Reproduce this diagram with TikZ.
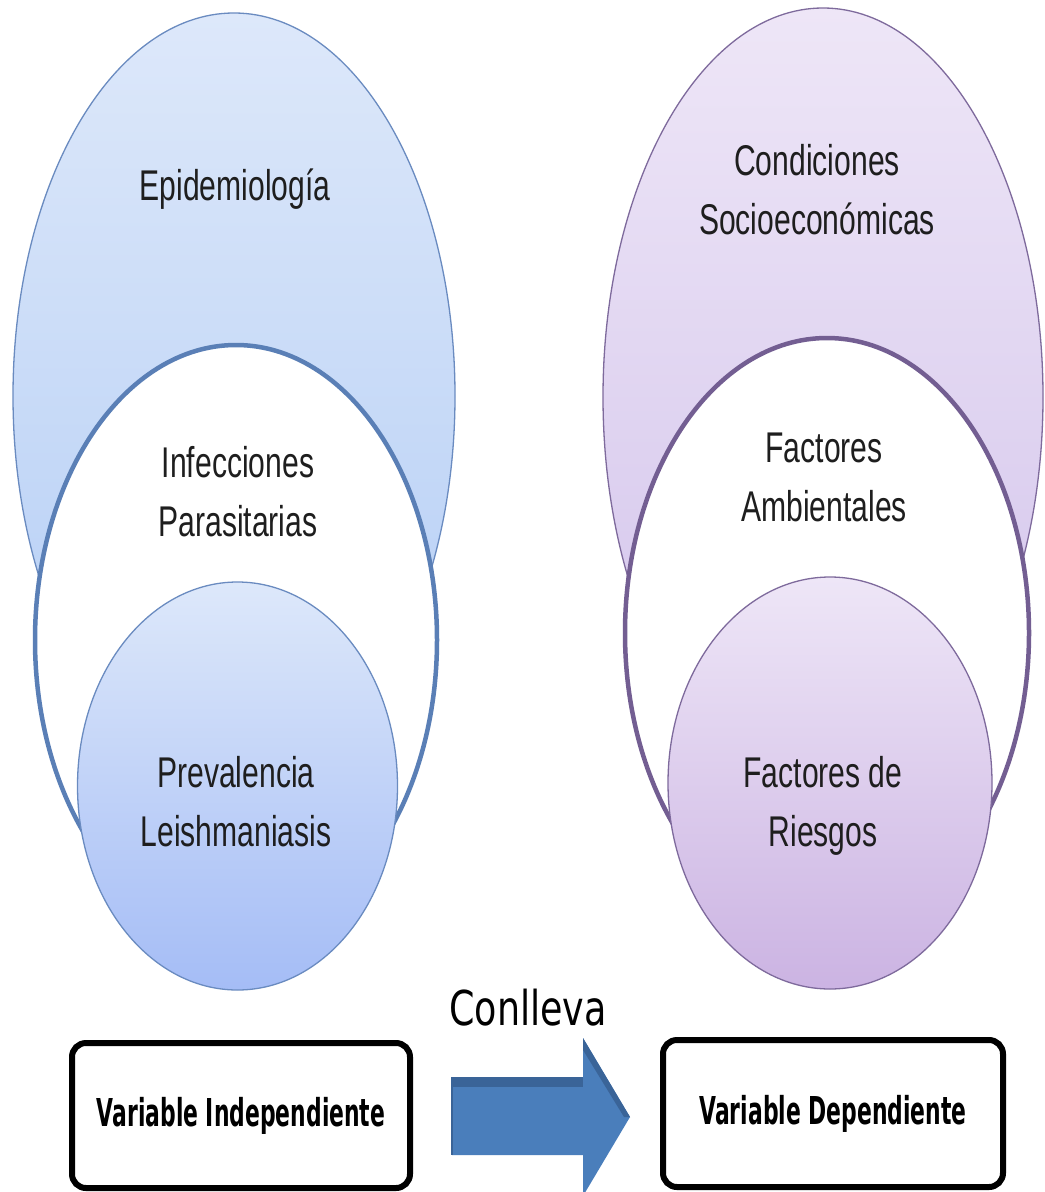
\documentclass[tikz,border=0pt]{standalone}
\usepackage{fontspec}
\newfontfamily\lblfont[FakeStretch=0.70]{Liberation Sans}
\newfontfamily\boxfont[FakeStretch=0.57]{DejaVu Sans}
\newfontfamily\arrfont[FakeStretch=0.76]{DejaVu Sans}

\definecolor{blueTop}{HTML}{DDE8FA}
\definecolor{blueBot}{HTML}{B3CDF5}
\definecolor{blueLine}{HTML}{6A8BC0}
\definecolor{blueThick}{HTML}{5A7FB6}
\definecolor{lilaTop}{HTML}{EEE6F7}
\definecolor{lilaBot}{HTML}{D2C3EB}
\definecolor{lilaLine}{HTML}{7E6A9C}
\definecolor{lilaThick}{HTML}{735E92}
\definecolor{arrowBlue}{HTML}{4A7EBB}
\definecolor{arrowDark}{HTML}{3A6498}
\definecolor{inkText}{HTML}{1E1E1E}

\begin{document}
\begin{tikzpicture}[x=0.75pt,y=-0.75pt,
  lbl/.style={font=\lblfont\fontsize{32.25}{44.25}\selectfont, text=inkText, align=center, inner sep=0pt},
  varbox/.style={draw=black, line width=6*0.75pt, rounded corners=14*0.75pt, fill=white,
    font=\boxfont\bfseries\fontsize{28.8}{34}\selectfont, align=center, inner sep=0pt},
  thinring/.style={line width=1.3*0.75pt},
  thickring/.style={line width=4.5*0.75pt, fill=white}]

\useasboundingbox (0,0) rectangle (1045,1192);
\fill[white] (0,0) rectangle (1045,1192);

% left set of nested ellipses
\path[thinring, draw=blueLine, top color=blueTop, bottom color=blueBot]
  (234,396) ellipse [x radius=221, y radius=383];
\path[thickring, draw=blueThick] (236,640) ellipse [x radius=201, y radius=295];
\path[thinring, draw=blueLine, top color=blueTop, bottom color=blueBot!92!blue]
  (237.5,786) ellipse [x radius=160, y radius=204];

% right set of nested ellipses
\path[thinring, draw=lilaLine, top color=lilaTop, bottom color=lilaBot]
  (823,397) ellipse [x radius=220, y radius=389];
\path[thickring, draw=lilaThick] (827,633) ellipse [x radius=202, y radius=295];
\path[thinring, draw=lilaLine, top color=lilaTop, bottom color=lilaBot!92!violet]
  (830,783) ellipse [x radius=162, y radius=206];

% labels inside the ellipses
\node[lbl, anchor=base] (epi) at (235,200) {Epidemiología};
\node[lbl] (inf) at (238,492) {Infecciones\\Parasitarias};
\node[lbl] (pre) at (236,802) {Prevalencia\\Leishmaniasis};

\node[lbl] (con) at (817,190) {Condiciones\\Socioeconómicas};
\node[lbl] (amb) at (824,477) {Factores\\Ambientales};
\node[lbl] (rie) at (823,806) {Factores de\\Riesgos};

% variable boxes
\node[varbox, minimum width=338*0.75pt, minimum height=145*0.75pt] (vi) at (241,1115.5)
  {Variable Independiente};
\node[varbox, minimum width=340*0.75pt, minimum height=147*0.75pt] (vd) at (833,1113.5)
  {Variable Dependiente};

% block arrow between the boxes
\fill[arrowBlue] (452,1077) -- (583,1077) -- (583,1038) -- (630,1117)
  -- (583,1196) -- (583,1155) -- (452,1155) -- cycle;
\fill[arrowDark] (452,1077) -- (583,1077) -- (583,1087) -- (452,1087) -- cycle;
\fill[arrowDark] (583,1038) -- (630,1117) -- (624,1117) -- (583,1050) -- cycle;
\draw[arrowDark, line width=1.5*0.75pt] (452,1077) -- (452,1155);

\node[font=\arrfont\fontsize{36}{40}\selectfont, anchor=base, inner sep=0pt] (conl) at (528,1025) {Conlleva};
\end{tikzpicture}
\end{document}
